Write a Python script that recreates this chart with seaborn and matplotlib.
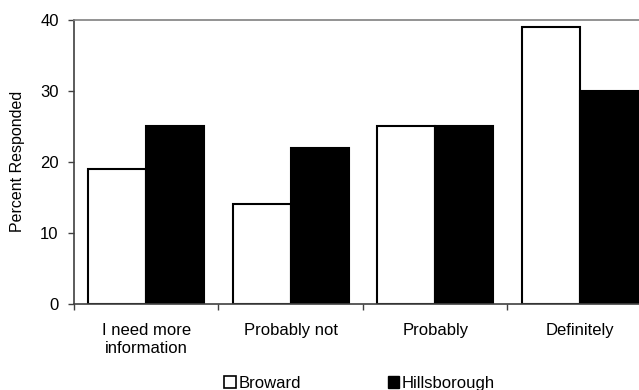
# Import Libraries
import pandas as pd
import matplotlib
matplotlib.use('Agg')
import matplotlib.pyplot as plt
import seaborn as sns
from matplotlib.patches import Patch

# Data
categories = ['I need more\ninformation', 'Probably not', 'Probably', 'Definitely']
broward = [19, 14, 25, 39]
hillsborough = [25, 22, 25, 30]
counties = ['Broward', 'Hillsborough']

df = pd.DataFrame({
    'category': categories * 2,
    'county': [counties[0]] * 4 + [counties[1]] * 4,
    'percent': broward + hillsborough,
})

sns.set_style('white', {'text.color': 'black', 'axes.labelcolor': 'black',
                        'xtick.color': 'black', 'ytick.color': 'black'})
plt.rcParams['font.family'] = ['Liberation Sans', 'DejaVu Sans']
plt.rcParams['font.size'] = 12

fig = plt.figure(figsize=(6.39, 3.9), dpi=100)
ax = fig.add_axes([0.1158, 0.2205, 0.9045, 0.7295])

sns.barplot(data=df, x='category', y='percent', hue='county',
            palette=['white', 'black'], edgecolor='black', linewidth=1.5,
            width=0.8, ax=ax, legend=False)

ax.set_xlim(-0.5, 3.5)
ax.set_ylim(0, 40)
ax.set_yticks([0, 10, 20, 30, 40])
ax.set_xlabel('')
ax.set_ylabel('Percent Responded', fontsize=11.5, labelpad=11)

# ticks at category boundaries
ax.set_xticks([-0.5, 0.5, 1.5, 2.5], minor=True)
ax.tick_params(axis='x', which='major', length=0, pad=14, labelsize=12)
ax.tick_params(axis='x', which='minor', length=4, direction='out', width=1, color='#404040')
ax.tick_params(axis='y', length=4, direction='out', width=1, color='#404040', labelsize=12, pad=7)
ax.xaxis.set_ticks_position('bottom')
ax.yaxis.set_ticks_position('left')

for s in ['left', 'bottom']:
    ax.spines[s].set_color('#404040')
    ax.spines[s].set_linewidth(1.2)
ax.spines['top'].set_color('#808080')
ax.spines['top'].set_linewidth(1.2)
ax.spines['right'].set_visible(False)

handles = [Patch(facecolor='white', edgecolor='black', linewidth=1.2),
           Patch(facecolor='black', edgecolor='black')]
fig.legend(handles, counties, loc='lower center', bbox_to_anchor=(0.563, -0.04),
           ncol=2, frameon=False, handlelength=0.7, handleheight=0.7,
           handletextpad=0.15, columnspacing=5.2, fontsize=12)

plt.savefig('out.png', dpi=100)
